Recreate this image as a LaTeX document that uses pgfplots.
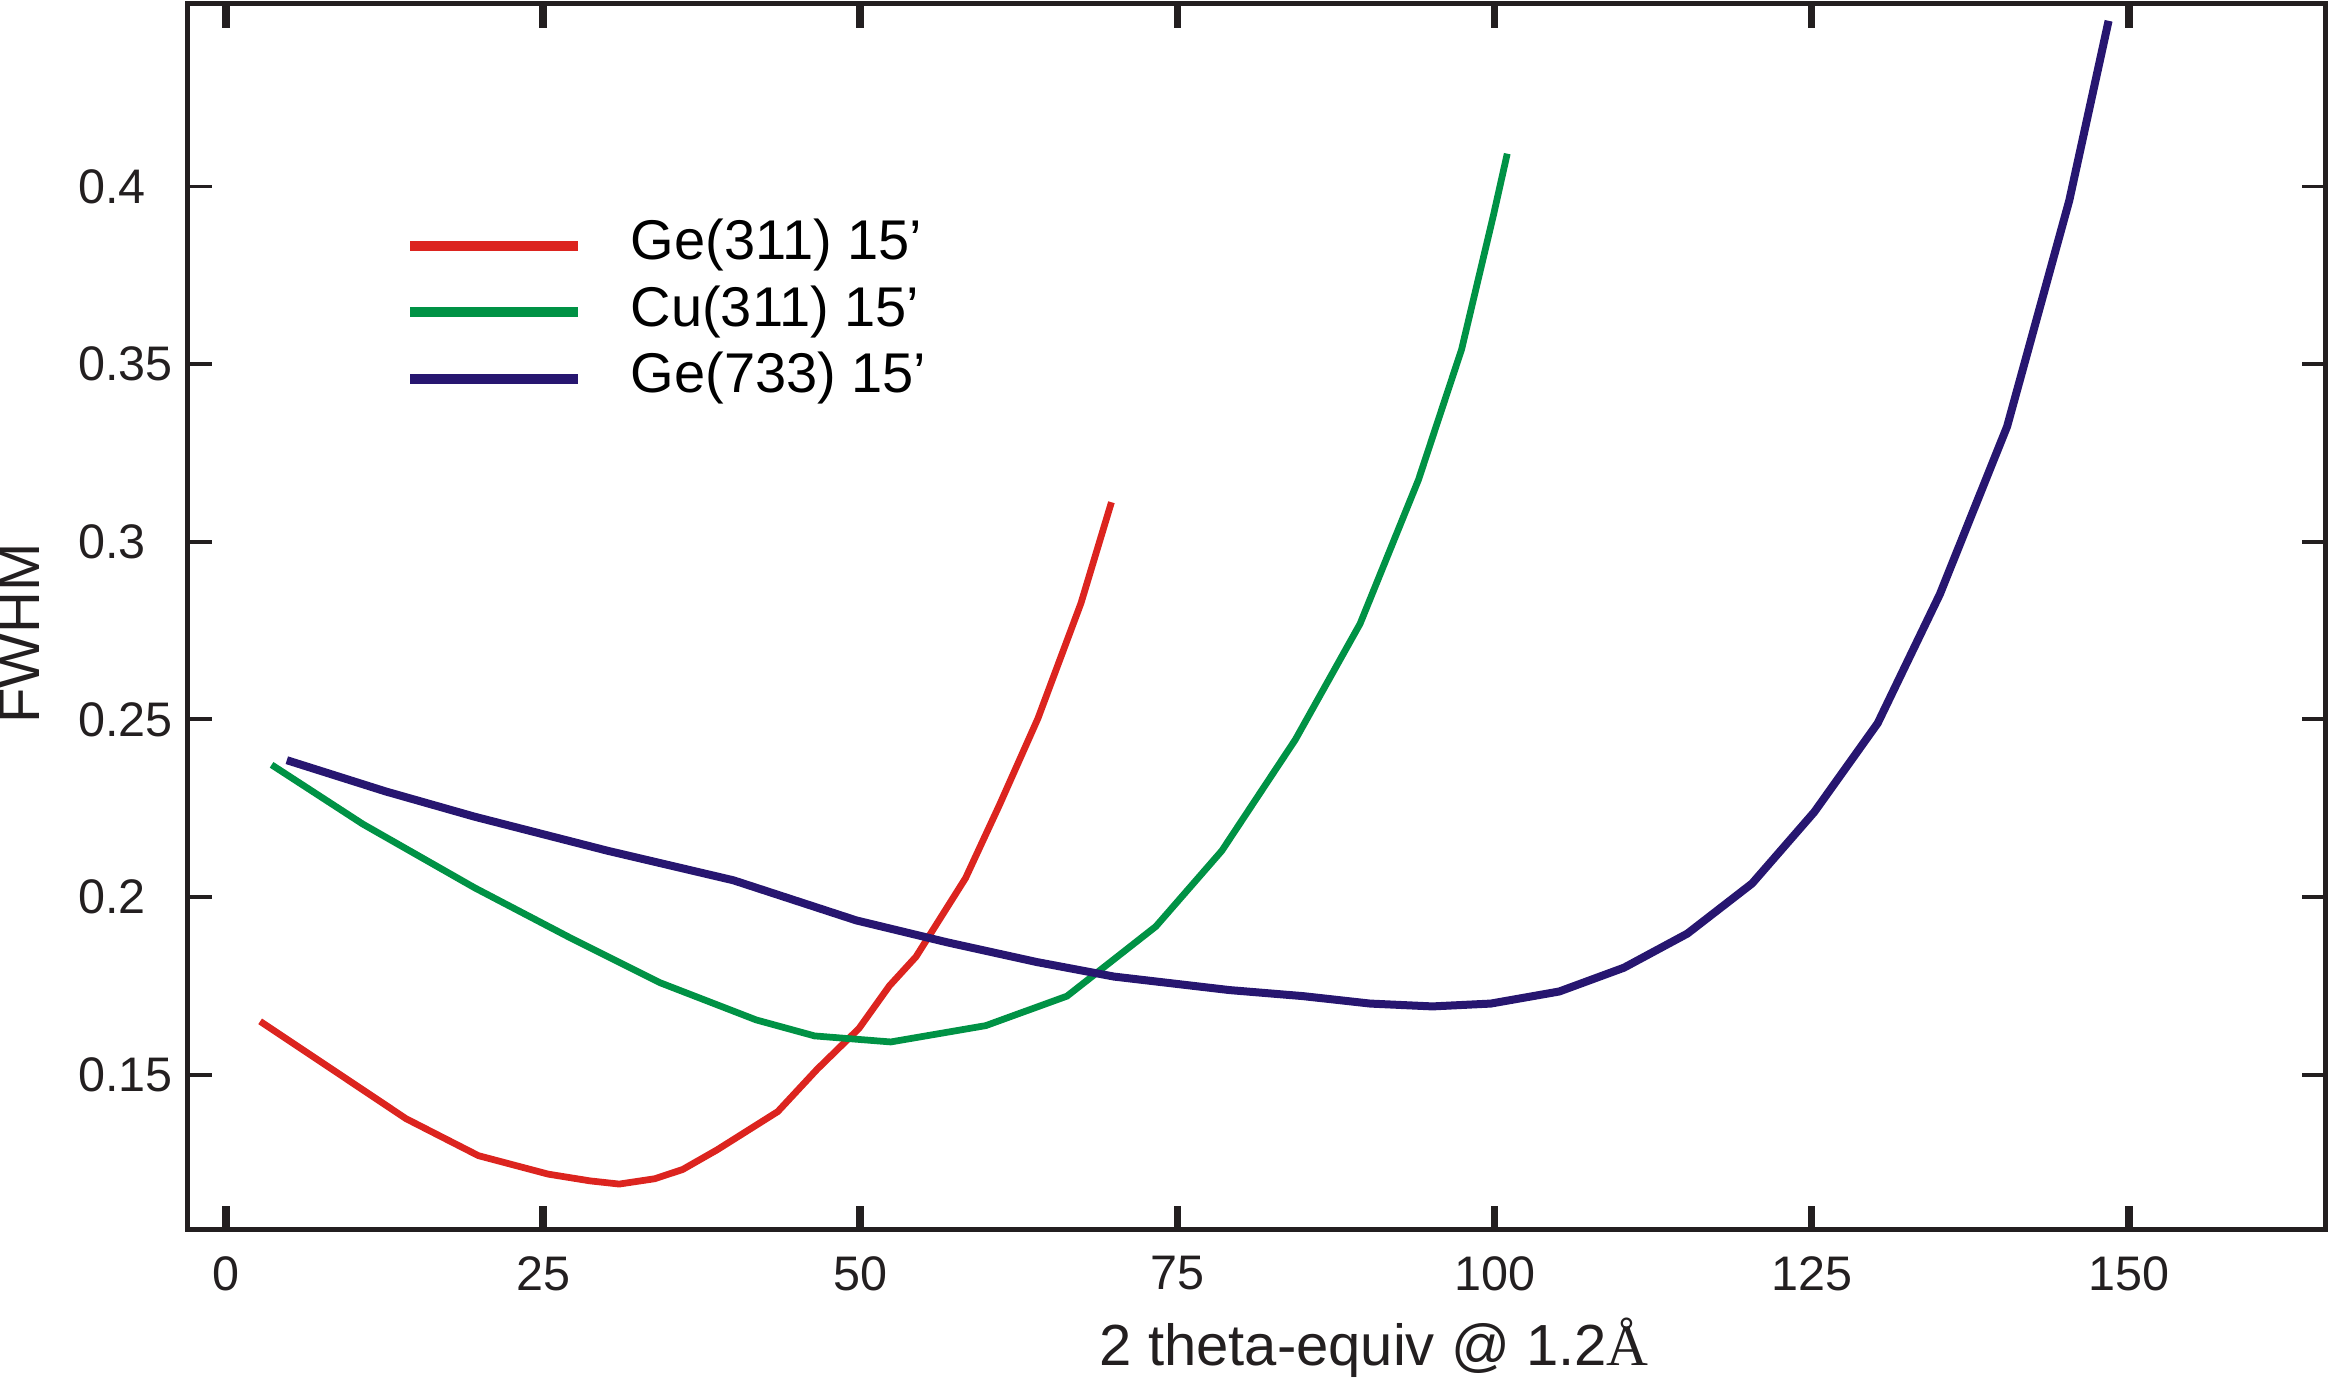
\documentclass[border=0pt]{standalone}
\usepackage{fontspec}
\setmainfont{Liberation Sans}
\newfontfamily\serifA{Liberation Serif}
\usepackage{pgfplots}
\pgfplotsset{compat=1.18}
\definecolor{cred}{RGB}{220,36,31}
\definecolor{cgreen}{RGB}{0,146,69}
\definecolor{cnavy}{RGB}{39,22,112}
\definecolor{cax}{RGB}{35,31,32}
\begin{document}
\begin{tikzpicture}
\begin{axis}[
  scale only axis,
  width=427.6pt, height=245.2pt,
  xmin=-3, xmax=165.5, ymin=0.1064, ymax=0.4514,
  xtick={0,25,...,150},
  ytick={0.15,0.2,0.25,0.3,0.35,0.4},
  yticklabels={0.15,0.2,0.25,0.3,0.35,0.4},
  tick align=inside,
  major tick length=4.8pt,
  xtick style={line width=1.5pt, color=cax},
  ytick style={line width=0.75pt, color=cax},
  axis line style={line width=1pt, color=cax},
  /pgf/number format/assume math mode=true,
  tick label style={font=\fontsize{9.7}{11}\selectfont, color=cax},
  xticklabel style={inner sep=0pt, yshift=-5.2pt},
  yticklabel style={inner sep=0pt, anchor=west, xshift=-22.1pt},
  xlabel={2 theta-equiv @ 1.2{\serifA Å}},
  ylabel={FWHM},
  label style={font=\fontsize{11.6}{13}\selectfont, color=cax},
  xlabel style={at={([yshift=-27.2pt]axis description cs:0.555,0)}, anchor=base, inner sep=0pt},
  ylabel style={at={([xshift=-29.6pt]axis description cs:0,0.486)}, anchor=base, inner sep=0pt},
  legend style={draw=none, fill=none, at={([xshift=43.3pt,yshift=-43pt]axis description cs:0,1)}, anchor=north west,
    font=\fontsize{11.2}{13}\selectfont, inner sep=0pt, row sep=2.8pt, column sep=9.5pt,
    nodes={inner sep=0pt, text height=8pt, text depth=2.5pt}},
  legend cell align=left,
  legend image code/.code={\draw[line width=2pt] (0pt,0pt) -- (33.6pt,0pt);},
]
\addplot[color=cred, line width=1.35pt] coordinates {
(2.7,0.1650) (14.2,0.1376) (19.9,0.1272) (25.4,0.1220) (28.7,0.1201) (31.0,0.1192)
(33.8,0.1207) (36.0,0.1233) (38.7,0.1288) (43.5,0.1396) (46.6,0.1515) (49.9,0.1630)
(52.3,0.1750) (54.4,0.1832) (58.3,0.2053) (61.0,0.2261) (64.0,0.2502) (67.4,0.2827) (69.8,0.3111)
};
\addlegendentry{Ge(311) 15’}
\addplot[color=cgreen, line width=1.35pt] coordinates {
(3.6,0.2372) (10.8,0.2205) (19.6,0.2026) (27.2,0.1884) (34.2,0.1759) (41.8,0.1654)
(46.4,0.1609) (52.4,0.1592) (59.9,0.1638) (66.3,0.1721) (73.3,0.1917) (78.5,0.2130)
(84.3,0.2443) (89.4,0.2769) (94.0,0.3174) (97.4,0.3541) (99.9,0.3917) (101.0,0.4092)
};
\addlegendentry{Cu(311) 15’}
\addplot[color=cnavy, line width=1.6pt] coordinates {
(4.8,0.2385) (12.6,0.2297) (19.6,0.2226) (30.1,0.2130) (40.0,0.2047) (49.7,0.1934)
(56.9,0.1872) (63.9,0.1817) (70.0,0.1776) (79.1,0.1738) (84.9,0.1721) (90.2,0.1700)
(95.1,0.1692) (99.7,0.1700) (105.1,0.1734) (110.2,0.1801) (115.2,0.1897) (120.3,0.2038)
(125.2,0.2239) (130.2,0.2489) (135.1,0.2852) (140.4,0.3324) (145.3,0.3960) (148.4,0.4466)
};
\addlegendentry{Ge(733) 15’}
\end{axis}
\end{tikzpicture}
\end{document}
